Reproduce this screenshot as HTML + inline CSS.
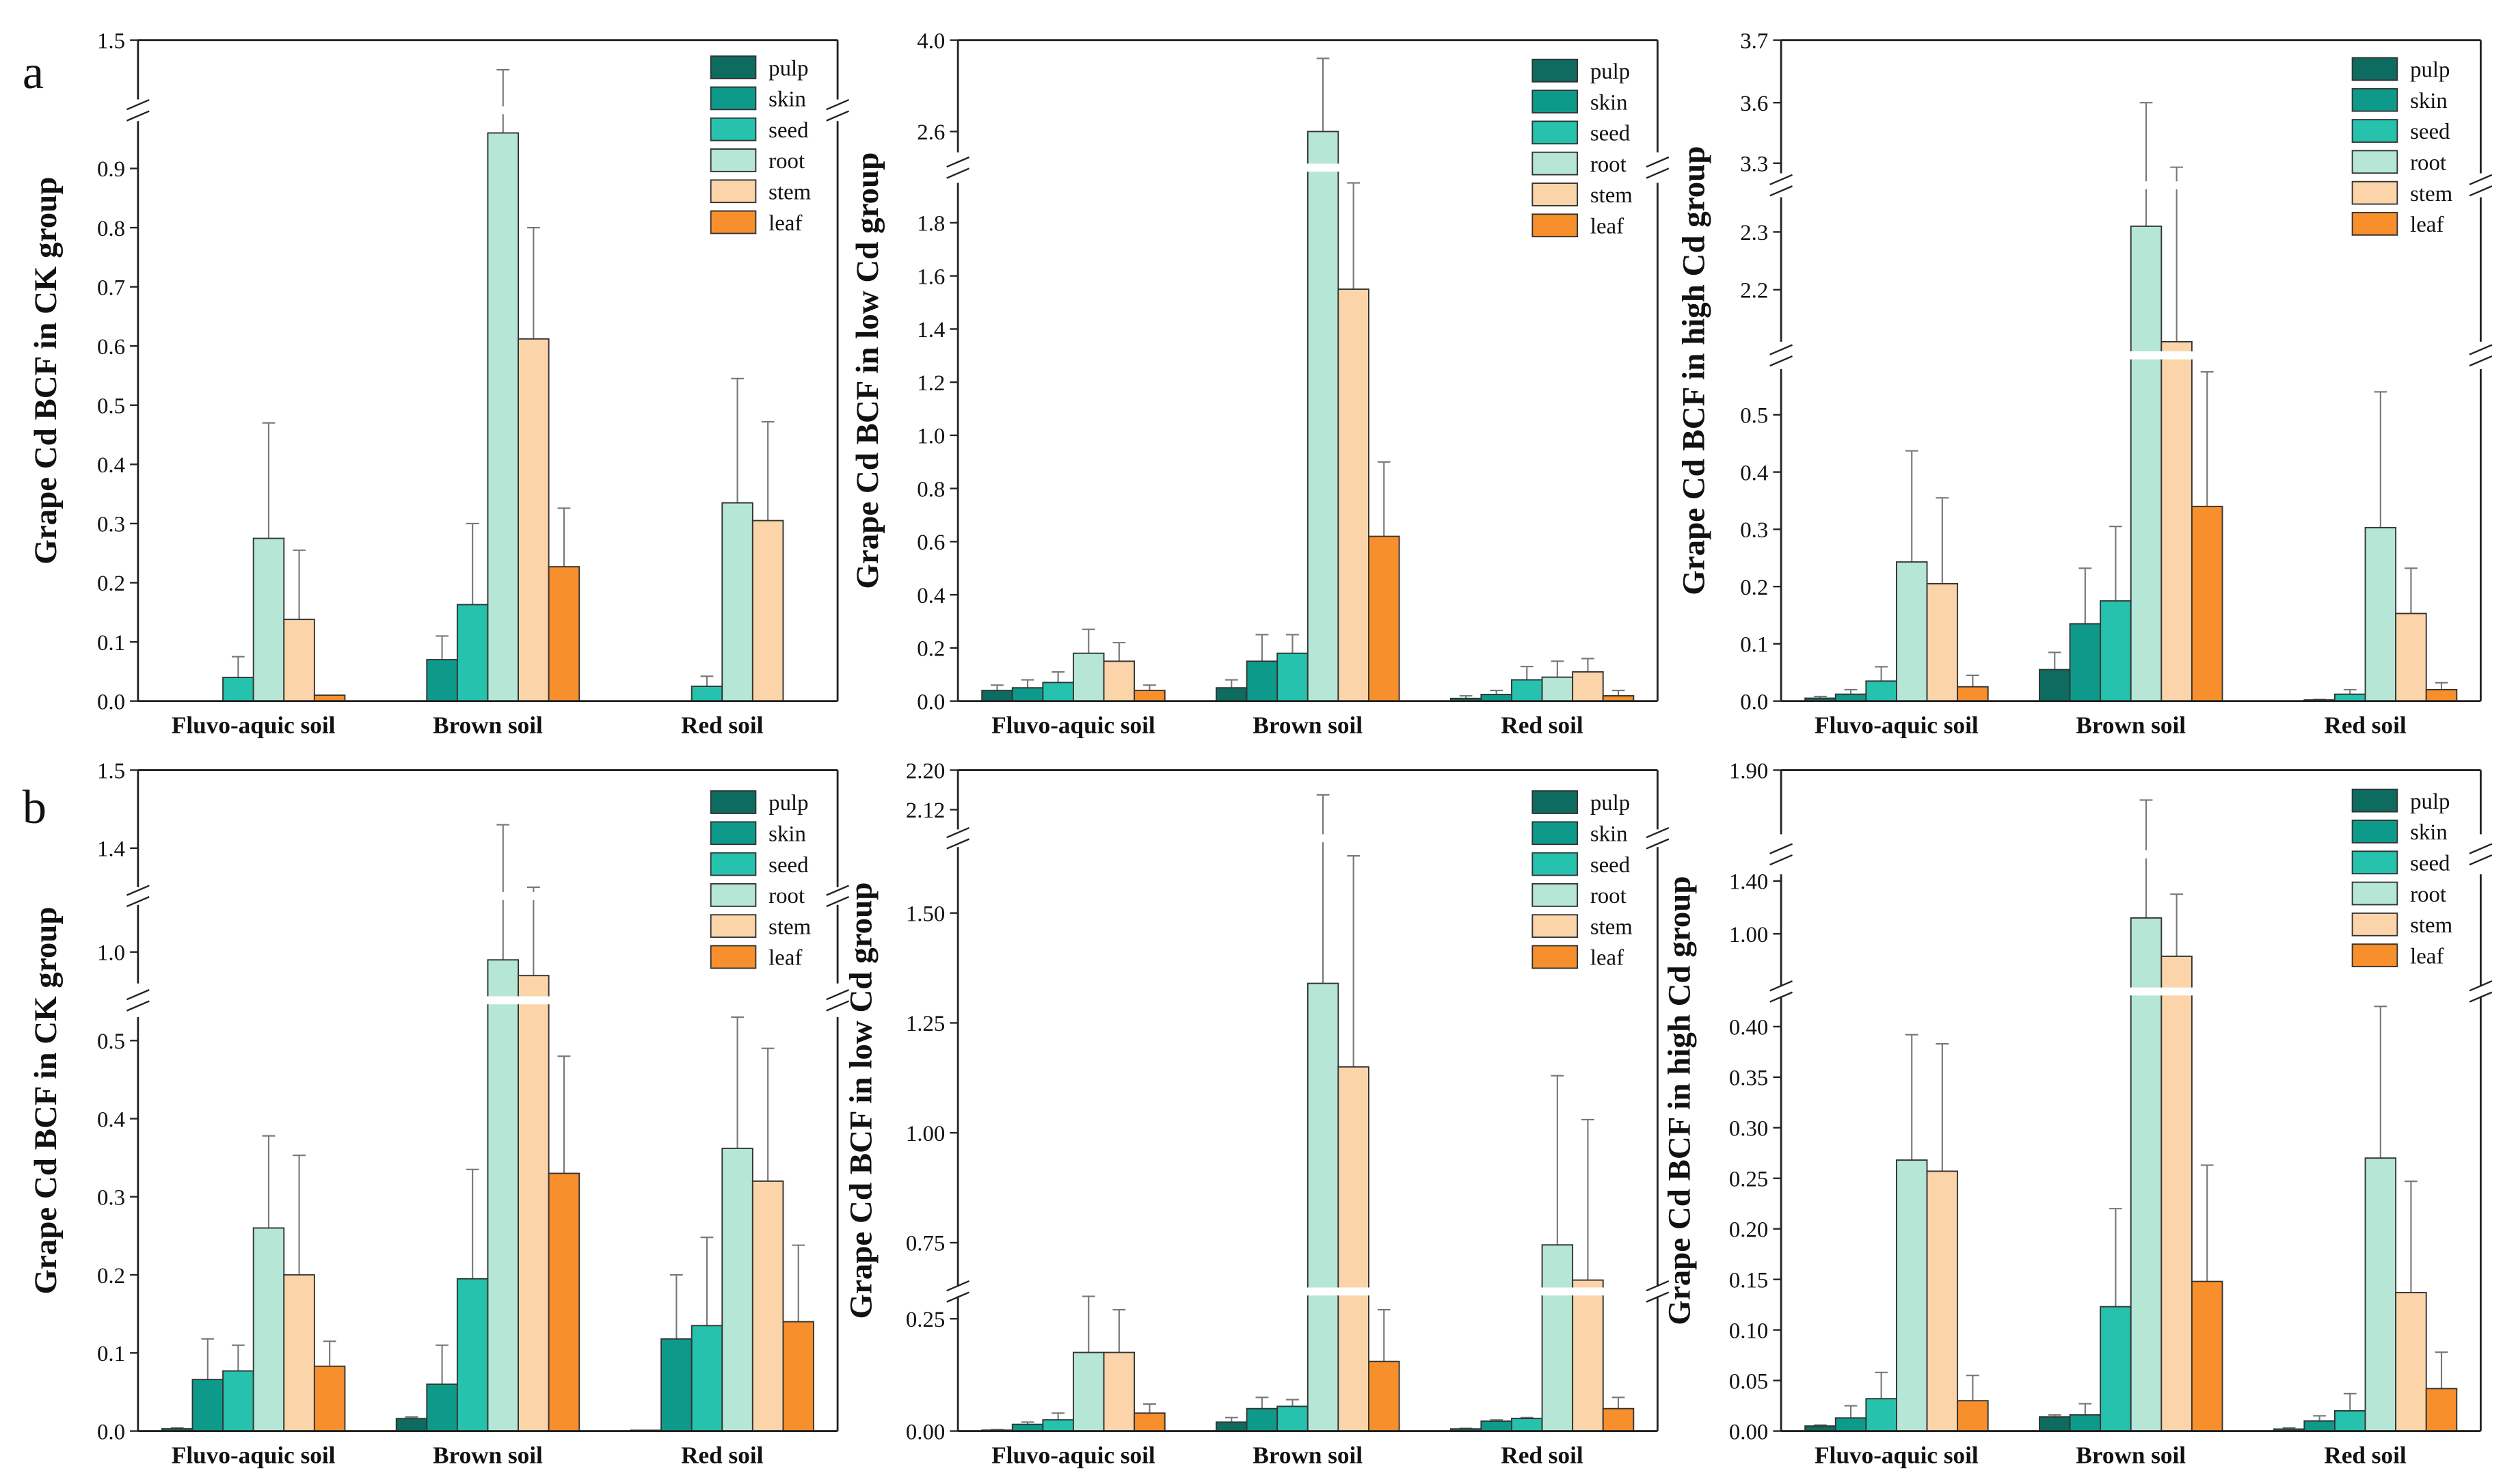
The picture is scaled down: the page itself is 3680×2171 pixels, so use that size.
<!DOCTYPE html>
<html><head><meta charset="utf-8"><title>Grape Cd BCF</title>
<style>
html,body{margin:0;padding:0;background:#fff;}
svg{display:block;}
text{font-family:"Liberation Serif","DejaVu Serif",serif;fill:#111;}
</style></head>
<body>
<svg id="chart" width="3680" height="2171" viewBox="0 0 1568 925" preserveAspectRatio="none" xmlns="http://www.w3.org/2000/svg">
<text x="14" y="55" font-size="30">a</text>
<text x="14" y="513" font-size="30">b</text>
</svg>
<script>
const categories = ["Fluvo-aquic soil","Brown soil","Red soil"];
const seriesNames = ["pulp","skin","seed","root","stem","leaf"];
const seriesColors = ["#0d6b5f","#0e9a8a","#26c2ad","#b5e6d6","#fcd4aa","#f78f2d"];

const a1Values = [[0,0,0.04,0.275,0.138,0.01],[0,0.07,0.163,0.96,0.612,0.227],[0,0,0.025,0.335,0.305,0]];
const a1Errors = [[0,0,0.075,0.47,0.255,0],[0,0.11,0.30,1.30,0.80,0.326],[0,0,0.042,0.545,0.472,0]];
const a2Values = [[0.04,0.05,0.07,0.18,0.15,0.04],[0.05,0.15,0.18,2.6,1.55,0.62],[0.01,0.025,0.08,0.09,0.11,0.02]];
const a2Errors = [[0.06,0.08,0.11,0.27,0.22,0.06],[0.08,0.25,0.25,3.72,1.95,0.9],[0.02,0.04,0.13,0.15,0.16,0.04]];
const a3Values = [[0.005,0.012,0.035,0.243,0.205,0.025],[0.055,0.135,0.175,2.31,2.11,0.34],[0,0.002,0.012,0.303,0.153,0.02]];
const a3Errors = [[0.008,0.02,0.06,0.437,0.355,0.045],[0.085,0.232,0.305,3.6,3.28,0.575],[0,0.003,0.02,0.54,0.232,0.032]];
const b1Values = [[0.003,0.066,0.077,0.26,0.2,0.083],[0.016,0.06,0.195,0.99,0.97,0.33],[0.001,0.118,0.135,0.362,0.32,0.14]];
const b1Errors = [[0.004,0.118,0.11,0.378,0.353,0.115],[0.018,0.11,0.335,1.43,1.35,0.48],[0.001,0.2,0.248,0.548,0.49,0.238]];
const b2Values = [[0.002,0.015,0.025,0.175,0.175,0.04],[0.02,0.05,0.055,1.34,1.15,0.155],[0.005,0.022,0.028,0.745,0.665,0.05]];
const b2Errors = [[0.003,0.02,0.04,0.31,0.27,0.06],[0.03,0.075,0.07,2.15,1.63,0.27],[0.006,0.025,0.03,1.13,1.03,0.075]];
const b3Values = [[0.005,0.013,0.032,0.268,0.257,0.03],[0.014,0.016,0.123,1.12,0.83,0.148],[0.002,0.01,0.02,0.27,0.137,0.042]];
const b3Errors = [[0.006,0.025,0.058,0.392,0.383,0.055],[0.016,0.027,0.22,1.83,1.3,0.263],[0.003,0.015,0.037,0.42,0.247,0.078]];

const a1Ticks = [0,0.1,0.2,0.3,0.4,0.5,0.6,0.7,0.8,0.9,1.5];
const a1TickLabels = ["0.0","0.1","0.2","0.3","0.4","0.5","0.6","0.7","0.8","0.9","1.5"];
const a2Ticks = [0,0.2,0.4,0.6,0.8,1.0,1.2,1.4,1.6,1.8,2.6,4.0];
const a2TickLabels = ["0.0","0.2","0.4","0.6","0.8","1.0","1.2","1.4","1.6","1.8","2.6","4.0"];
const a3Ticks = [0,0.1,0.2,0.3,0.4,0.5,2.2,2.3,3.3,3.6,3.7];
const a3TickLabels = ["0.0","0.1","0.2","0.3","0.4","0.5","2.2","2.3","3.3","3.6","3.7"];
const b1Ticks = [0,0.1,0.2,0.3,0.4,0.5,1.0,1.4,1.5];
const b1TickLabels = ["0.0","0.1","0.2","0.3","0.4","0.5","1.0","1.4","1.5"];
const b2Ticks = [0,0.25,0.75,1.0,1.25,1.5,2.12,2.2];
const b2TickLabels = ["0.00","0.25","0.75","1.00","1.25","1.50","2.12","2.20"];
const b3Ticks = [0,0.05,0.1,0.15,0.2,0.25,0.3,0.35,0.4,1.0,1.4,1.9];
const b3TickLabels = ["0.00","0.05","0.10","0.15","0.20","0.25","0.30","0.35","0.40","1.00","1.40","1.90"];

const panels = [
 {id:"a1",x0:86,x1:522,yb:437,yt:25,title:"Grape Cd BCF in CK group",tx:35,vals:a1Values,errs:a1Errors,ticks:a1Ticks,labels:a1TickLabels,leg:[443,42],
  segs:[{v0:0,v1:0.98,y0:437,y1:75.5},{v0:1.1,v1:1.5,y0:62,y1:25}]},
 {id:"a2",x0:597,x1:1033,yb:437,yt:25,title:"Grape Cd BCF in low Cd group",tx:547,vals:a2Values,errs:a2Errors,ticks:a2Ticks,labels:a2TickLabels,leg:[955,44],
  segs:[{v0:0,v1:1.95,y0:437,y1:114},{v0:2.28,v1:4.0,y0:95,y1:25}]},
 {id:"a3",x0:1110,x1:1546,yb:437,yt:25,title:"Grape Cd BCF in high Cd  group",tx:1062,vals:a3Values,errs:a3Errors,ticks:a3Ticks,labels:a3TickLabels,leg:[1466,43],
  segs:[{v0:0,v1:0.58,y0:437,y1:230},{v0:2.11,v1:2.36,y0:213,y1:123},{v0:3.25,v1:3.6,y0:108,y1:64},{v0:3.6,v1:3.7,y0:64,y1:25}]},
 {id:"b1",x0:86,x1:522,yb:892,yt:480,title:"Grape Cd BCF in CK group",tx:35,vals:b1Values,errs:b1Errors,ticks:b1Ticks,labels:b1TickLabels,leg:[443,500],
  segs:[{v0:0,v1:0.53,y0:892,y1:634},{v0:0.96,v1:1.06,y0:613,y1:564},{v0:1.35,v1:1.5,y0:553,y1:480}]},
 {id:"b2",x0:597,x1:1033,yb:892,yt:480,title:"Grape Cd BCF in low Cd group",tx:543,vals:b2Values,errs:b2Errors,ticks:b2Ticks,labels:b2TickLabels,leg:[955,500],
  segs:[{v0:0,v1:0.3,y0:892,y1:808},{v0:0.65,v1:1.65,y0:802,y1:528},{v0:2.08,v1:2.2,y0:517,y1:480}]},
 {id:"b3",x0:1110,x1:1546,yb:892,yt:480,title:"Grape Cd BCF in high Cd group",tx:1053,vals:b3Values,errs:b3Errors,ticks:b3Ticks,labels:b3TickLabels,leg:[1466,499],
  segs:[{v0:0,v1:0.43,y0:892,y1:621},{v0:0.6,v1:1.45,y0:615,y1:545},{v0:1.75,v1:1.9,y0:520,y1:480}]}
];

const NS="http://www.w3.org/2000/svg";
const svg=document.getElementById("chart");
function mk(tag,attrs,parent){const e=document.createElementNS(NS,tag);for(const k in attrs)e.setAttribute(k,attrs[k]);(parent||svg).appendChild(e);return e;}

function yScale(p,v){
  const s=p.segs;
  if(v<=s[0].v0) return s[0].y0;
  for(let i=0;i<s.length;i++){
    const g=s[i];
    if(v>=g.v0&&v<=g.v1) return g.y0+(v-g.v0)/(g.v1-g.v0)*(g.y1-g.y0);
    if(i<s.length-1&&v>g.v1&&v<s[i+1].v0) return g.y1;
  }
  return s[s.length-1].y1;
}
function xCenter(p,ci){const w=p.x1-p.x0;return p.x0+w*(0.165+0.335*ci);}

panels.forEach(p=>{
  const g=mk("g",{});
  
  
  const bw=19;
  p.vals.forEach((row,ci)=>{
    const cx=xCenter(p,ci);
    row.forEach((v,si)=>{
      const bx=cx-57+si*bw;
      const y0=yScale(p,0), yv=yScale(p,v), ye=yScale(p,p.errs[ci][si]);
      if(p.errs[ci][si]>v){
        const el=mk("path",{d:`M${bx+bw/2} ${yv}V${ye}M${bx+bw/2-4} ${ye}H${bx+bw/2+4}`,stroke:"#777","stroke-width":0.9,fill:"none"},g);
        
        
      }
      if(v>0){
        const r=mk("rect",{x:bx,y:yv,width:bw,height:Math.max(y0-yv,0.6),fill:seriesColors[si],stroke:"#333","stroke-width":0.8},g);
        
        
      }
    });
    const t=mk("text",{x:cx,y:p.yb+20,"text-anchor":"middle","font-size":15,"font-weight":"bold"},g);
    t.textContent=categories[ci];
    
    
  });
  for(let i=0;i<p.segs.length-1;i++){
    if(p.segs[i].y1===p.segs[i+1].y0) continue;
    const by=(p.segs[i].y1+p.segs[i+1].y0)/2;
    const w=mk("rect",{x:p.x0+1,y:by-2.5,width:p.x1-p.x0-2,height:5,fill:"#fff"},g);
    
    
    [p.x0,p.x1].forEach(ax=>{
      mk("rect",{x:ax-7,y:by-3,width:14,height:6,fill:"#fff"},g);
      const s=mk("path",{d:`M${ax-7} ${by-0.5}L${ax+7} ${by-6.5}M${ax-7} ${by+6.5}L${ax+7} ${by+0.5}`,stroke:"#222","stroke-width":1,fill:"none"},g);
      
      
    });
  }
  let d=`M${p.x0} ${p.yb}H${p.x1}M${p.x0} ${p.yt}H${p.x1}`;
  p.segs.forEach(s=>{d+=`M${p.x0} ${s.y0}V${s.y1}M${p.x1} ${s.y0}V${s.y1}`;});
  const fr=mk("path",{d:d,stroke:"#222","stroke-width":1.2,fill:"none"},g);
  
  
  p.ticks.forEach((v,i)=>{
    const y=yScale(p,v);
    mk("path",{d:`M${p.x0-5} ${y}H${p.x0}`,stroke:"#222","stroke-width":1},g);
    const t=mk("text",{x:p.x0-8,y:y+5,"text-anchor":"end","font-size":14},g);
    t.textContent=p.labels[i];
    
    
  });
  const cy=(p.yb+p.yt)/2;
  const yt=mk("text",{x:p.tx,y:cy,transform:`rotate(-90 ${p.tx} ${cy})`,"text-anchor":"middle","font-size":20,"font-weight":"bold"},g);
  yt.textContent=p.title;
  
  
  seriesNames.forEach((n,si)=>{
    const ly=p.leg[1]+si*19.3;
    const r=mk("rect",{x:p.leg[0],y:ly-7,width:28,height:14,fill:seriesColors[si],stroke:"#333","stroke-width":0.8},g);
    
    
    const t=mk("text",{x:p.leg[0]+36,y:ly+5,"font-size":14},g);
    t.textContent=n;
    
    
  });
});
</script>
</body></html>
